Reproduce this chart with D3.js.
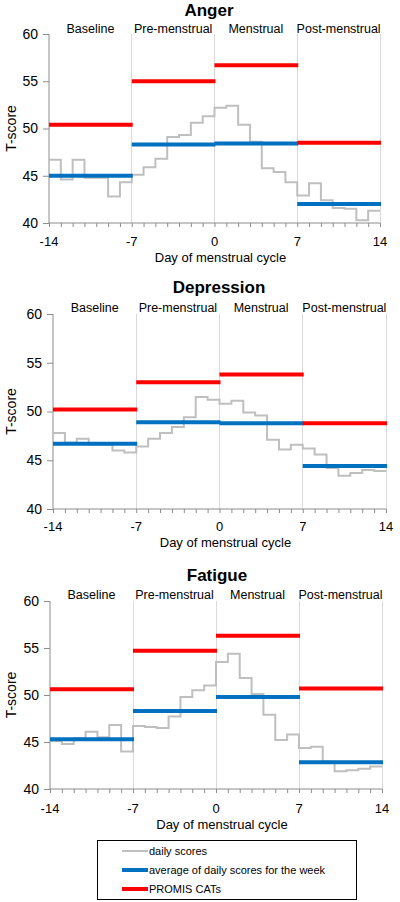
<!DOCTYPE html>
<html><head><meta charset="utf-8">
<script src="https://cdn.jsdelivr.net/npm/d3@7/dist/d3.min.js"></script>
<style>body{margin:0;background:#fff}svg{display:block}text{font-family:"Liberation Sans",Arial,sans-serif;fill:#000}</style>
</head><body>
<svg id="c" width="400" height="902"></svg>
<script>
const phases = ["Baseline","Pre-menstrual","Menstrual","Post-menstrual"];
const phaseStarts = [-14,-7,0,7];
const days = d3.range(-14,14);
const xTickLabels = [-14,-7,0,7,14];
const yTickLabels = [40,45,50,55,60];
const panelTitles = ["Anger","Depression","Fatigue"];

const angerDaily = [46.7,44.6,46.7,44.8,44.8,42.8,44.3, 45.1,45.9,46.8,49.1,49.3,50.6,51.3, 52.2,52.4,50.4,48.6,45.8,45.4,44.3, 42.9,44.2,42.4,41.6,41.5,40.3,41.3];
const angerWeekAvg = [45.0,48.3,48.4,42.0];
const angerCAT = [50.4,55.0,56.7,48.5];

const depressionDaily = [47.8,46.8,47.2,46.6,46.6,46.0,45.8, 46.4,47.2,47.8,48.4,49.4,51.5,51.2, 50.8,51.1,49.9,49.6,47.1,46.1,46.6, 46.2,45.6,44.2,43.4,43.7,44.0,43.9];
const depressionWeekAvg = [46.7,48.9,48.8,44.4];
const depressionCAT = [50.2,53.0,53.8,48.8];

const fatigueDaily = [45.1,44.8,45.4,46.1,45.5,46.8,44.0, 46.7,46.6,46.5,47.7,49.8,50.5,51.0, 53.5,54.4,51.8,50.1,47.9,45.2,45.8, 44.35,44.5,42.9,41.9,42.0,42.15,42.4];
const fatigueWeekAvg = [45.3,48.3,49.8,42.85];
const fatigueCAT = [50.6,54.7,56.3,50.7];

const dailySeries = [angerDaily, depressionDaily, fatigueDaily];
const avgSeries = [angerWeekAvg, depressionWeekAvg, fatigueWeekAvg];
const catSeries = [angerCAT, depressionCAT, fatigueCAT];

const legendLabels = ["daily scores","average of daily scores for the week","PROMIS CATs"];
const colors = {daily:"#bfbfbf", avg:"#0070c0", cat:"#ff0000"};

// layout for each panel
const layouts = [
  {left:49, right:380, top:34, bottom:223, titleY:10, phaseY:29, tickY:241, axTitleY:257, titleX:209},
  {left:53, right:386, top:314, bottom:509, titleY:287, phaseY:308, tickY:526, axTitleY:542, titleX:219},
  {left:50, right:382, top:601, bottom:789, titleY:575, phaseY:595, tickY:808, axTitleY:824, titleX:217}
];

const svg = d3.select("#c");
const axisColor = "#8c8c8c", gridColor = "#d9d9d9";

layouts.forEach((L, pi) => {
  const g = svg.append("g");
  const x = d3.scaleLinear().domain([-14,14]).range([L.left, L.right]);
  const y = d3.scaleLinear().domain([40,60]).range([L.bottom, L.top]);

  g.append("text").attr("x", L.titleX).attr("y", L.titleY).attr("dy","0.35em")
    .attr("text-anchor","middle").style("font-size","17px").style("font-weight","bold").text(panelTitles[pi]);

  phases.forEach((p,i) => {
    g.append("text").attr("x", x(phaseStarts[i]+3.5)).attr("y", L.phaseY).attr("dy","0.35em")
      .attr("text-anchor","middle").style("font-size","12.5px").text(p);
  });

  [-7,0,7,14].forEach(d => {
    g.append("line").attr("x1", x(d)).attr("x2", x(d)).attr("y1", y(60)).attr("y2", y(40))
      .attr("stroke", gridColor).attr("stroke-width",1).attr("shape-rendering","crispEdges");
  });

  const yAxis = d3.axisLeft(y).tickValues(yTickLabels).tickSize(6).tickPadding(5).tickFormat(d3.format("d"));
  const ya = g.append("g").attr("transform", `translate(${L.left},0)`).call(yAxis);
  ya.select(".domain").attr("stroke", axisColor).attr("d", `M0,${y(60)}V${y(40)}`);
  ya.selectAll(".tick line").attr("stroke", axisColor);
  ya.selectAll(".tick text").style("font-size","14px").style("font-family","Liberation Sans, Arial, sans-serif").attr("fill","#000");

  const xAxis = d3.axisBottom(x).tickValues(d3.range(-14,15)).tickSize(4).tickFormat("");
  const xa = g.append("g").attr("transform", `translate(0,${L.bottom})`).call(xAxis);
  xa.select(".domain").attr("stroke", axisColor).attr("d", `M${L.left},0H${L.right}`);
  xa.selectAll(".tick line").attr("stroke", axisColor);

  xTickLabels.forEach(d => {
    g.append("text").attr("x", x(d)).attr("y", L.tickY).attr("dy","0.35em").attr("text-anchor","middle")
      .style("font-size","13px").text(d);
  });
  g.append("text").attr("x", (L.left+L.right)/2 + 6).attr("y", L.axTitleY).attr("dy","0.35em").attr("text-anchor","middle")
    .style("font-size","13px").text("Day of menstrual cycle");

  g.append("text").attr("transform", `translate(11,${(L.top+L.bottom)/2}) rotate(-90)`).attr("dy","0.35em")
    .attr("text-anchor","middle").style("font-size","14px").text("T-score");

  const vals = dailySeries[pi];
  const pts = days.map((d,i) => [d, vals[i]]);
  pts.push([14, vals[vals.length-1]]);
  const line = d3.line().x(d => x(d[0])).y(d => y(d[1])).curve(d3.curveStepAfter);
  g.append("path").attr("d", line(pts)).attr("fill","none").attr("stroke", colors.daily).attr("stroke-width",2);

  avgSeries[pi].forEach((v,i) => {
    g.append("line").attr("x1", x(phaseStarts[i])).attr("x2", x(phaseStarts[i]+7)+1)
      .attr("y1", y(v)).attr("y2", y(v)).attr("stroke", colors.avg).attr("stroke-width",4);
  });
  catSeries[pi].forEach((v,i) => {
    g.append("line").attr("x1", x(phaseStarts[i])).attr("x2", x(phaseStarts[i]+7)+1)
      .attr("y1", y(v)).attr("y2", y(v)).attr("stroke", colors.cat).attr("stroke-width",4);
  });
});

const lg = svg.append("g");
lg.append("rect").attr("x",97.5).attr("y",840.5).attr("width",259).attr("height",59)
  .attr("fill","#fff").attr("stroke","#000").attr("stroke-width",1);
const legStyles = [{c:colors.daily,w:2},{c:colors.avg,w:4},{c:colors.cat,w:4}];
const legY = d3.scalePoint().domain(legendLabels).range([851,889]);
legendLabels.forEach((lab,i) => {
  lg.append("line").attr("x1",122).attr("x2",148).attr("y1",legY(lab)).attr("y2",legY(lab))
    .attr("stroke", legStyles[i].c).attr("stroke-width", legStyles[i].w);
  lg.append("text").attr("x",149).attr("y",legY(lab)).attr("dy","0.35em").style("font-size","11px").text(lab);
});
</script>
</body></html>
